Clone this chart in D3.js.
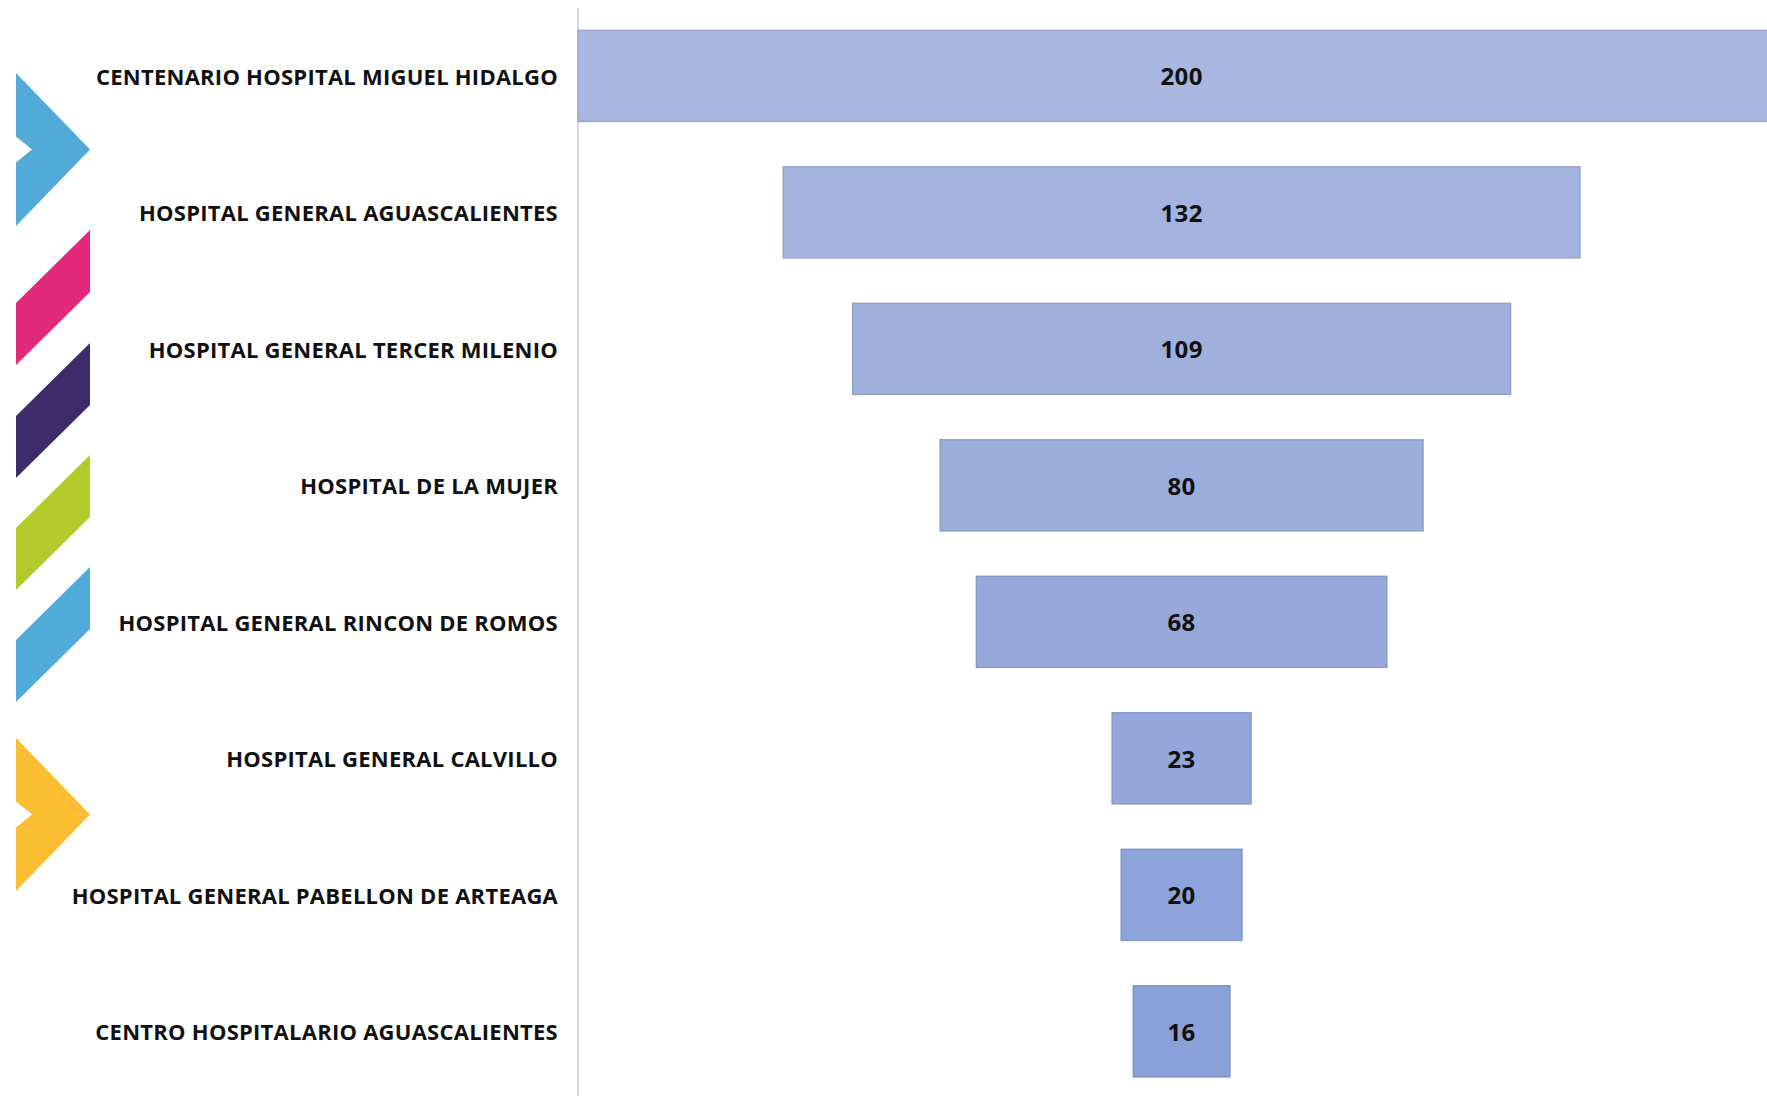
<!DOCTYPE html>
<html>
<head>
<meta charset="utf-8">
<script src="https://cdn.jsdelivr.net/npm/d3@7"></script>
<style>
  html, body { margin: 0; padding: 0; background: #fff; }
  #chart { width: 1767px; height: 1096px; overflow: hidden; }
  text { font-family: "Open Sans", "Liberation Sans", sans-serif; }
</style>
</head>
<body>
<div id="chart"></div>
<script>
// Hospitals, top to bottom, with their counts
const hospitals = [
  'CENTENARIO HOSPITAL MIGUEL HIDALGO',
  'HOSPITAL GENERAL AGUASCALIENTES',
  'HOSPITAL GENERAL TERCER MILENIO',
  'HOSPITAL DE LA MUJER',
  'HOSPITAL GENERAL RINCON DE ROMOS',
  'HOSPITAL GENERAL CALVILLO',
  'HOSPITAL GENERAL PABELLON DE ARTEAGA',
  'CENTRO HOSPITALARIO AGUASCALIENTES'
];
const counts = [200, 132, 109, 80, 68, 23, 20, 16];

// decorative ribbon on the left (chevrons and slanted stripes)
const ribbonColors = ['#52aad8', '#e2297c', '#3d2b6b', '#b3ca2d', '#52aad8', '#fbbd31'];

document.addEventListener('DOMContentLoaded', () => {
  const width = 1767;
  const height = 1096;

  const svg = d3.select('#chart')
    .append('svg')
    .attr('width', width)
    .attr('height', height);

  const data = hospitals.map((name, i) => ({ name, value: counts[i], i }));

  const axisX = 578;
  const centerX = 1181.6;
  const halfSpan = centerX - axisX;

  // funnel: each bar centered, width proportional to value
  const x = d3.scaleLinear()
    .domain([-d3.max(counts) / 2, d3.max(counts) / 2])
    .range([centerX - halfSpan, centerX + halfSpan]);

  const y = d3.scaleBand()
    .domain(hospitals)
    .range([7.6, 7.6 + hospitals.length * 136.5])
    .paddingInner(0.333)
    .paddingOuter(0.1667);

  const shade = d3.scaleLinear()
    .domain([0, hospitals.length - 1])
    .range(['#a9b6df', '#89a0d8']);

  // Ribbon
  const ribbon = svg.append('g');
  const chevron = (top, bottom) => {
    const mid = (top + bottom) / 2;
    return `M16,${top} L90,${mid} L16,${bottom} L16,${mid + 13} L32,${mid} L16,${mid - 13} Z`;
  };
  const stripe = (topRight) =>
    `M90,${topRight} L90,${topRight + 62} L16,${topRight + 135} L16,${topRight + 73} Z`;

  ribbon.append('path').attr('d', chevron(73, 226)).attr('fill', ribbonColors[0]);
  [230, 343, 455, 567].forEach((t, k) => {
    ribbon.append('path').attr('d', stripe(t)).attr('fill', ribbonColors[k + 1]);
  });
  ribbon.append('path').attr('d', chevron(738, 891)).attr('fill', ribbonColors[5]);

  // Axis line
  svg.append('line')
    .attr('x1', axisX).attr('x2', axisX)
    .attr('y1', 8).attr('y2', height)
    .attr('stroke', '#d9d9d9')
    .attr('stroke-width', 2);

  // Bars
  svg.selectAll('rect.bar')
    .data(data)
    .enter()
    .append('rect')
    .attr('class', 'bar')
    .attr('x', d => x(-d.value / 2))
    .attr('y', d => y(d.name))
    .attr('width', d => x(d.value / 2) - x(-d.value / 2))
    .attr('height', y.bandwidth())
    .attr('fill', d => shade(d.i))
    .attr('stroke', d => d3.color(shade(d.i)).darker(0.25))
    .attr('stroke-width', 1.5);

  // Value labels
  svg.selectAll('text.value')
    .data(data)
    .enter()
    .append('text')
    .attr('class', 'value')
    .attr('x', centerX)
    .attr('y', d => y(d.name) + y.bandwidth() / 2)
    .attr('dy', '0.4em')
    .attr('text-anchor', 'middle')
    .style('font-size', '24px')
    .style('font-weight', '700')
    .style('letter-spacing', '0.4px')
    .style('fill', '#111')
    .text(d => d.value);

  // Category labels
  svg.selectAll('text.cat')
    .data(data)
    .enter()
    .append('text')
    .attr('class', 'cat')
    .attr('x', 558)
    .attr('y', d => y(d.name) + y.bandwidth() / 2)
    .attr('dy', '0.4em')
    .attr('text-anchor', 'end')
    .style('font-size', '22px')
    .style('font-weight', '700')
    .style('letter-spacing', '0.25px')
    .style('fill', '#111')
    .text(d => d.name);
});
</script>
</body>
</html>
